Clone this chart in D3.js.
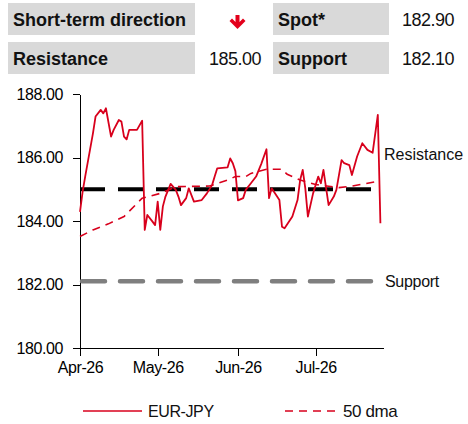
<!DOCTYPE html>
<html>
<head>
<meta charset="utf-8">
<script src="https://cdn.jsdelivr.net/npm/d3@7"></script>
<style>
    body { margin: 0; background: #fff; }
    svg { display: block; font-family: "Liberation Sans", Arial, sans-serif; }
    .axis text { font-size: 16px; fill: #000; letter-spacing: -0.4px; }
    .axis path, .axis line { stroke: #000; stroke-width: 1; shape-rendering: crispEdges; }
</style>
</head>
<body>
<div id="chart"></div>
<script>
const spotDates = ["2026-04-01", "2026-04-02", "2026-04-03", "2026-04-06", "2026-04-07", "2026-04-09",
    "2026-04-10", "2026-04-11", "2026-04-13", "2026-04-14", "2026-04-16", "2026-04-17", "2026-04-18",
    "2026-04-19", "2026-04-20", "2026-04-23", "2026-04-25", "2026-04-26", "2026-04-27", "2026-04-29",
    "2026-04-30", "2026-05-01", "2026-05-02", "2026-05-03", "2026-05-04", "2026-05-06", "2026-05-08",
    "2026-05-09", "2026-05-10", "2026-05-12", "2026-05-13", "2026-05-15", "2026-05-18", "2026-05-20",
    "2026-05-22", "2026-05-23", "2026-05-24", "2026-05-28", "2026-05-29", "2026-05-30", "2026-05-31",
    "2026-06-01", "2026-06-03", "2026-06-04", "2026-06-06", "2026-06-08", "2026-06-10", "2026-06-12",
    "2026-06-13", "2026-06-14", "2026-06-17", "2026-06-18", "2026-06-19", "2026-06-22", "2026-06-24",
    "2026-06-25", "2026-06-26", "2026-06-27", "2026-06-28", "2026-06-30", "2026-07-02", "2026-07-03",
    "2026-07-04", "2026-07-06", "2026-07-08", "2026-07-09", "2026-07-11", "2026-07-12", "2026-07-14",
    "2026-07-15", "2026-07-17", "2026-07-19", "2026-07-21", "2026-07-23", "2026-07-25", "2026-07-26"];
const spotValues = [184.29, 184.92, 185.40, 186.76, 187.29, 187.50,
    187.39, 187.55, 186.66, 186.87, 187.18, 187.13, 186.66,
    186.57, 186.87, 186.87, 187.16, 183.72, 184.19, 183.98,
    183.87, 184.61, 183.72, 184.46, 184.77, 185.17, 184.98,
    184.77, 184.50, 184.72, 185.03, 184.61, 184.66, 184.87,
    185.13, 185.40, 185.66, 185.69, 185.97, 185.82, 185.57,
    184.65, 184.72, 184.98, 185.19, 185.40, 185.80, 186.26,
    184.72, 185.03, 184.66, 183.82, 183.77, 184.14, 184.66,
    185.29, 185.61, 185.03, 184.14, 184.87, 185.40, 185.19,
    185.61, 184.50, 184.77, 184.98, 185.92, 185.82, 185.76,
    185.45, 186.03, 186.45, 186.24, 186.15, 187.34, 183.93];

const dmaDates = ["2026-04-01", "2026-04-06", "2026-04-12", "2026-04-18", "2026-04-25", "2026-05-02",
    "2026-05-08", "2026-05-21", "2026-05-28", "2026-05-31", "2026-06-04", "2026-06-06", "2026-06-12",
    "2026-06-18", "2026-06-20", "2026-06-25", "2026-07-01", "2026-07-10", "2026-07-15", "2026-07-25"];
const dmaValues = [183.51, 183.72, 183.91, 184.14, 184.72, 184.87,
    185.08, 185.10, 185.29, 185.40, 185.40, 185.50, 185.63,
    185.63, 185.47, 185.29, 185.15, 185.05, 185.10, 185.25];

const resistance = 185.00;
const support = 182.10;
const spot = 182.90;
const yTicks = [180, 182, 184, 186, 188];
const xTicks = ["2026-04-01", "2026-05-01", "2026-06-01", "2026-07-01"];
const seriesNames = ["EUR-JPY", "50 dma"];

const red = "#d8001c";
const parse = d3.timeParse("%Y-%m-%d");

const width = 468;
const height = 424;
const margin = { top: 94, right: 85, bottom: 76, left: 80 };

const svg = d3.select("#chart")
    .append("svg")
    .attr("width", width)
    .attr("height", height);

// header table
const cells = [
    { x: 8, y: 3, w: 187, label: "Short-term direction" },
    { x: 273, y: 3, w: 116, label: "Spot*", value: spot.toFixed(2), vx: 454 },
    { x: 8, y: 42, w: 187, label: "Resistance", value: resistance.toFixed(2), vx: 261 },
    { x: 273, y: 42, w: 116, label: "Support", value: support.toFixed(2), vx: 454 }
];

const cell = svg.selectAll("g.cell")
    .data(cells)
    .enter().append("g")
    .attr("class", "cell");

cell.append("rect")
    .attr("x", (d) => d.x)
    .attr("y", (d) => d.y)
    .attr("width", (d) => d.w)
    .attr("height", 32)
    .attr("fill", "#d9d9d9");

cell.append("text")
    .attr("x", (d) => d.x + 5)
    .attr("y", (d) => d.y + 23)
    .attr("font-size", 18)
    .attr("font-weight", "bold")
    .attr("fill", "#111")
    .text((d) => d.label);

cell.filter((d) => d.value)
    .append("text")
    .attr("x", (d) => d.vx)
    .attr("y", (d) => d.y + 23)
    .attr("font-size", 18)
    .attr("text-anchor", "end")
    .attr("letter-spacing", "-0.5px")
    .attr("fill", "#111")
    .text((d) => d.value);

// down arrow for direction
svg.append("path")
    .attr("d", "M235.5,15 h4 v7 l3.5,-3.5 l2.5,2.5 l-8,8 l-8,-8 l2.5,-2.5 l3.5,3.5 z")
    .attr("fill", "#e3001b");

const x = d3.scaleTime()
    .domain([parse("2026-04-01"), parse("2026-07-27")])
    .range([margin.left, width - margin.right]);

const y = d3.scaleLinear()
    .domain([180, 188])
    .range([height - margin.bottom, margin.top]);

svg.append("g")
    .attr("class", "axis")
    .attr("transform", "translate(" + margin.left + ",0)")
    .call(d3.axisLeft(y).tickValues(yTicks).tickFormat(d3.format(".2f")).tickSize(7).tickSizeOuter(0).tickPadding(10));

svg.append("g")
    .attr("class", "axis")
    .attr("transform", "translate(0," + (height - margin.bottom) + ")")
    .call(d3.axisBottom(x).tickValues(xTicks.map(parse)).tickFormat(d3.timeFormat("%b-%y")).tickSize(8).tickSizeOuter(0).tickPadding(6));

svg.selectAll(".axis text").attr("fill", "#000");

// resistance / support levels
const x0 = x(parse("2026-04-01"));
const x1 = x(parse("2026-07-26"));

svg.append("line")
    .attr("x1", x0).attr("x2", x1)
    .attr("y1", y(resistance)).attr("y2", y(resistance))
    .attr("stroke", "#000")
    .attr("stroke-width", 4)
    .attr("stroke-dasharray", "25,13");

svg.append("line")
    .attr("x1", x0 + 2).attr("x2", x1 - 4)
    .attr("y1", y(support)).attr("y2", y(support))
    .attr("stroke", "#7f7f7f")
    .attr("stroke-width", 4.5)
    .attr("stroke-linecap", "round")
    .attr("stroke-dasharray", "23,15");

const line = d3.line()
    .x((d) => x(d.date))
    .y((d) => y(d.value));

const dma = dmaDates.map((d, i) => ({ date: parse(d), value: dmaValues[i] }));
const spotSeries = spotDates.map((d, i) => ({ date: parse(d), value: spotValues[i] }));

svg.append("path")
    .datum(dma)
    .attr("d", line)
    .attr("fill", "none")
    .attr("stroke", red)
    .attr("stroke-width", 1.6)
    .attr("stroke-dasharray", "8,6");

svg.append("path")
    .datum(spotSeries)
    .attr("d", line)
    .attr("fill", "none")
    .attr("stroke", red)
    .attr("stroke-width", 1.8)
    .attr("stroke-linejoin", "round");

svg.append("text")
    .attr("x", 384)
    .attr("y", y(186) + 2)
    .attr("font-size", 16)
    .attr("fill", "#111")
    .text("Resistance");

svg.append("text")
    .attr("x", 385)
    .attr("y", y(support) + 6)
    .attr("font-size", 16)
    .attr("letter-spacing", "-0.3px")
    .attr("fill", "#111")
    .text("Support");

// legend
const legend = svg.selectAll("g.legend")
    .data(seriesNames)
    .enter().append("g")
    .attr("class", "legend")
    .attr("transform", (d, i) => "translate(" + (83 + i * 202) + ",411)");

legend.append("line")
    .attr("x1", 0).attr("x2", (d, i) => i ? 54 : 59)
    .attr("stroke", red)
    .attr("stroke-width", 1.6)
    .attr("stroke-dasharray", (d, i) => i ? "8,6" : null);

legend.append("text")
    .attr("x", (d, i) => i ? 58 : 65)
    .attr("y", 6)
    .attr("font-size", (d, i) => i ? 17 : 16)
    .attr("letter-spacing", "-0.4px")
    .attr("fill", "#111")
    .text((d) => d);
</script>
</body>
</html>
